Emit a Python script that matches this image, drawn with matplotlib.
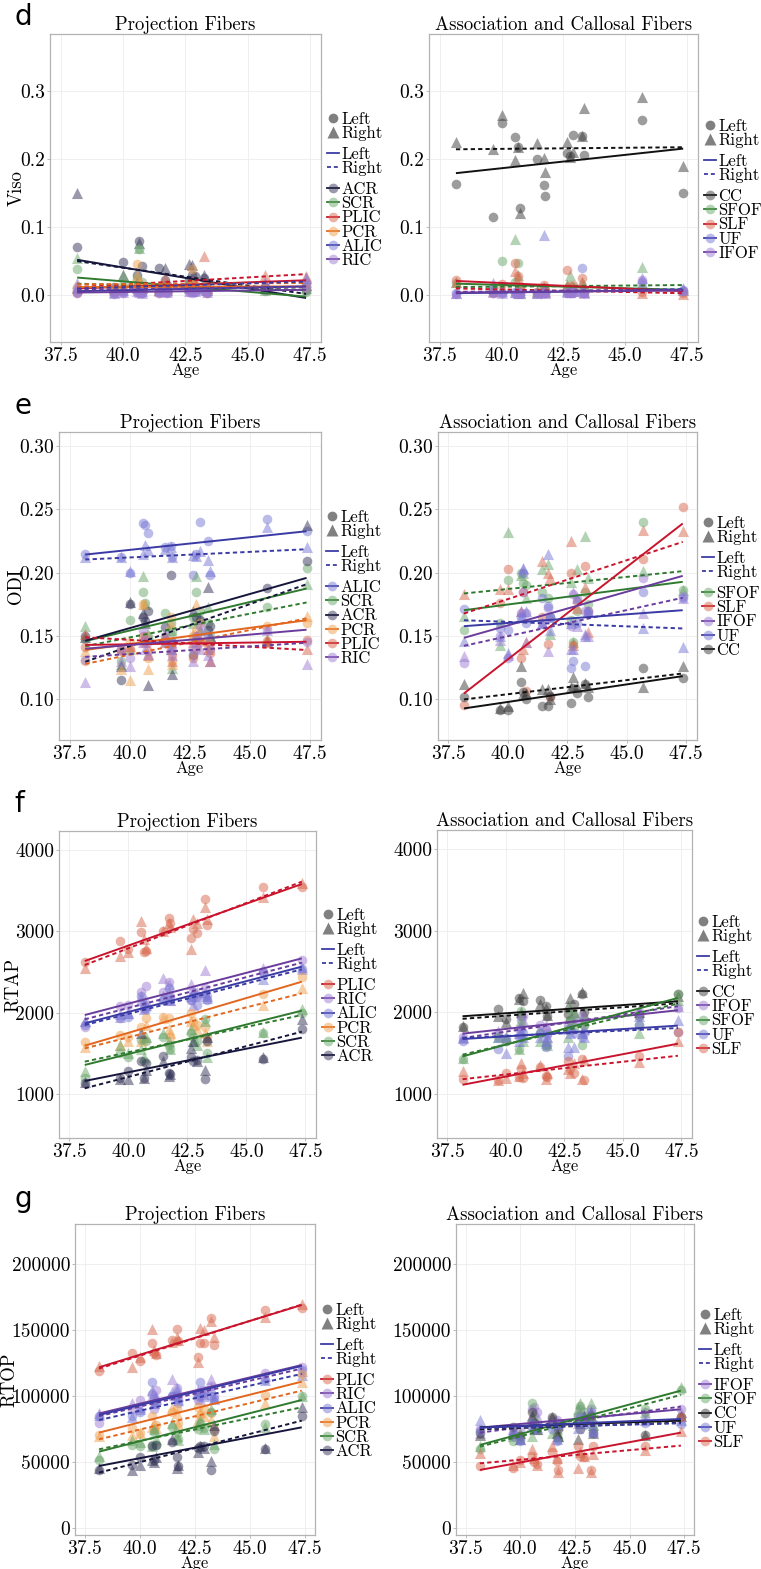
import matplotlib
matplotlib.use('Agg')
import matplotlib.pyplot as plt
from matplotlib.lines import Line2D
from matplotlib.colors import to_rgba

plt.rcParams['font.family'] = ['cmr10', 'DejaVu Serif']
plt.rcParams['mathtext.fontset'] = 'cm'
plt.rcParams['axes.formatter.use_mathtext'] = True

# ---------------- data ----------------
ages = [38.15, 39.65, 40.0, 40.55, 40.65, 40.75, 41.45, 41.7, 41.75,
        42.65, 42.75, 42.9, 43.25, 43.35, 45.7, 47.35]
age_ticks = [37.5, 40.0, 42.5, 45.0, 47.5]
age_tick_labels = ['37.5', '40.0', '42.5', '45.0', '47.5']

proj_tracts_viso = ['ACR', 'SCR', 'PLIC', 'PCR', 'ALIC', 'RIC']
assoc_tracts_viso = ['CC', 'SFOF', 'SLF', 'UF', 'IFOF']
proj_tracts_odi = ['ALIC', 'SCR', 'ACR', 'PCR', 'PLIC', 'RIC']
assoc_tracts_odi = ['SFOF', 'SLF', 'IFOF', 'UF', 'CC']
proj_tracts_rtap = ['PLIC', 'RIC', 'ALIC', 'PCR', 'SCR', 'ACR']
assoc_tracts_rtap = ['CC', 'IFOF', 'SFOF', 'UF', 'SLF']
proj_tracts_rtop = ['PLIC', 'RIC', 'ALIC', 'PCR', 'SCR', 'ACR']
assoc_tracts_rtop = ['IFOF', 'SFOF', 'CC', 'UF', 'SLF']

# fitted line values: [left start, left end, right start, right end]
# ---- Viso ----
viso_ACR_L = [0.071, 0.012, 0.049, 0.030, 0.080, 0.043, 0.040, 0.022, 0.015, 0.022, 0.030, 0.028, 0.025, 0.010, 0.012, 0.008]
viso_ACR_R = [0.150, 0.010, 0.030, 0.020, 0.077, 0.015, 0.010, 0.040, 0.015, 0.046, 0.045, 0.018, 0.030, 0.010, 0.010, 0.015]
viso_fit_ACR = [0.052, -0.004, 0.050, 0.002]
viso_SCR_L = [0.038, 0.008, 0.015, 0.025, 0.068, 0.020, 0.010, 0.012, 0.010, 0.020, 0.015, 0.010, 0.010, 0.008, 0.006, 0.005]
viso_SCR_R = [0.055, 0.010, 0.030, 0.018, 0.070, 0.012, 0.008, 0.015, 0.010, 0.018, 0.012, 0.010, 0.010, 0.008, 0.007, 0.010]
viso_fit_SCR = [0.026, -0.002, 0.017, 0.008]
viso_PLIC_L = [0.003, 0.005, 0.008, 0.010, 0.012, 0.006, 0.004, 0.010, 0.005, 0.008, 0.020, 0.010, 0.012, 0.004, 0.010, 0.018]
viso_PLIC_R = [0.010, 0.008, 0.012, 0.015, 0.020, 0.010, 0.008, 0.025, 0.010, 0.012, 0.015, 0.020, 0.058, 0.010, 0.030, 0.028]
viso_fit_PLIC = [0.010, 0.022, 0.012, 0.031]
viso_PCR_L = [0.012, 0.008, 0.010, 0.046, 0.015, 0.012, 0.008, 0.010, 0.006, 0.012, 0.038, 0.012, 0.010, 0.005, 0.010, 0.012]
viso_PCR_R = [0.015, 0.010, 0.012, 0.030, 0.020, 0.010, 0.010, 0.012, 0.008, 0.015, 0.020, 0.015, 0.015, 0.010, 0.015, 0.020]
viso_fit_PCR = [0.012, 0.013, 0.016, 0.018]
viso_ALIC_L = [0.005, 0.003, 0.005, 0.008, 0.006, 0.004, 0.005, 0.006, 0.005, 0.008, 0.006, 0.005, 0.010, 0.005, 0.012, 0.015]
viso_ALIC_R = [0.012, 0.005, 0.008, 0.010, 0.008, 0.006, 0.008, 0.010, 0.008, 0.010, 0.012, 0.010, 0.012, 0.008, 0.020, 0.025]
viso_fit_ALIC = [0.006, 0.013, 0.010, 0.020]
viso_RIC_L = [0.004, 0.002, 0.003, 0.005, 0.004, 0.003, 0.004, 0.005, 0.004, 0.005, 0.004, 0.005, 0.006, 0.004, 0.008, 0.010]
viso_RIC_R = [0.018, 0.003, 0.005, 0.006, 0.005, 0.004, 0.006, 0.006, 0.005, 0.006, 0.006, 0.006, 0.008, 0.005, 0.010, 0.025]
viso_fit_RIC = [0.004, 0.008, 0.008, 0.012]
viso_CC_L = [0.163, 0.115, 0.253, 0.232, 0.218, 0.128, 0.200, 0.161, 0.145, 0.208, 0.204, 0.235, 0.233, 0.205, 0.257, 0.150]
viso_CC_R = [0.224, 0.215, 0.264, 0.199, 0.218, 0.121, 0.223, 0.201, 0.180, 0.224, 0.203, 0.210, 0.234, 0.275, 0.290, 0.189]
viso_fit_CC = [0.179, 0.215, 0.214, 0.217]
viso_SFOF_L = [0.018, 0.010, 0.050, 0.020, 0.048, 0.010, 0.005, 0.012, 0.008, 0.010, 0.015, 0.012, 0.010, 0.008, 0.010, 0.006]
viso_SFOF_R = [0.020, 0.012, 0.010, 0.083, 0.030, 0.004, 0.005, 0.010, 0.010, 0.015, 0.030, 0.010, 0.020, 0.015, 0.042, 0.008]
viso_fit_SFOF = [0.017, 0.008, 0.012, 0.015]
viso_SLF_L = [0.022, 0.004, 0.016, 0.048, 0.028, 0.012, 0.005, 0.015, 0.008, 0.037, 0.005, 0.015, 0.025, 0.005, 0.005, 0.003]
viso_SLF_R = [0.020, 0.006, 0.010, 0.035, 0.025, 0.008, 0.006, 0.012, 0.006, 0.015, 0.010, 0.012, 0.020, 0.005, 0.004, 0.002]
viso_fit_SLF = [0.021, 0.006, 0.010, 0.003]
viso_UF_L = [0.003, 0.005, 0.004, 0.005, 0.003, 0.004, 0.003, 0.006, 0.004, 0.005, 0.004, 0.006, 0.040, 0.004, 0.020, 0.008]
viso_UF_R = [0.004, 0.018, 0.006, 0.005, 0.004, 0.005, 0.004, 0.088, 0.005, 0.006, 0.005, 0.006, 0.008, 0.005, 0.025, 0.010]
viso_fit_UF = [0.003, 0.008, 0.004, 0.009]
viso_IFOF_L = [0.002, 0.004, 0.003, 0.004, 0.003, 0.003, 0.003, 0.004, 0.003, 0.004, 0.004, 0.004, 0.005, 0.003, 0.022, 0.006]
viso_IFOF_R = [0.003, 0.005, 0.004, 0.005, 0.004, 0.004, 0.004, 0.005, 0.004, 0.005, 0.005, 0.006, 0.006, 0.004, 0.018, 0.008]
viso_fit_IFOF = [0.004, 0.007, 0.005, 0.008]

# ---- ODI ----
odi_ALIC_L = [0.215, 0.212, 0.200, 0.239, 0.238, 0.231, 0.220, 0.221, 0.212, 0.198, 0.215, 0.240, 0.225, 0.198, 0.242, 0.233]
odi_ALIC_R = [0.212, 0.212, 0.201, 0.215, 0.222, 0.218, 0.219, 0.220, 0.212, 0.214, 0.213, 0.217, 0.210, 0.201, 0.236, 0.220]
odi_fit_ALIC = [0.2143, 0.2327, 0.2104, 0.2185]
odi_SCR_L = [0.148, 0.130, 0.163, 0.185, 0.176, 0.150, 0.168, 0.160, 0.153, 0.165, 0.185, 0.170, 0.160, 0.150, 0.173, 0.204]
odi_SCR_R = [0.158, 0.128, 0.140, 0.197, 0.175, 0.152, 0.150, 0.155, 0.125, 0.160, 0.197, 0.165, 0.173, 0.150, 0.148, 0.191]
odi_fit_SCR = [0.146, 0.1875, 0.142, 0.1765]
odi_ACR_L = [0.150, 0.115, 0.175, 0.165, 0.162, 0.170, 0.157, 0.198, 0.145, 0.135, 0.165, 0.163, 0.155, 0.158, 0.188, 0.209]
odi_ACR_R = [0.149, 0.126, 0.177, 0.168, 0.160, 0.111, 0.150, 0.140, 0.120, 0.170, 0.150, 0.155, 0.189, 0.150, 0.146, 0.238]
odi_fit_ACR = [0.1463, 0.1959, 0.1297, 0.1909]
odi_PCR_L = [0.130, 0.140, 0.145, 0.175, 0.150, 0.133, 0.148, 0.165, 0.130, 0.150, 0.155, 0.160, 0.145, 0.140, 0.158, 0.160]
odi_PCR_R = [0.138, 0.124, 0.115, 0.175, 0.150, 0.124, 0.145, 0.160, 0.128, 0.152, 0.175, 0.148, 0.140, 0.130, 0.148, 0.166]
odi_fit_PCR = [0.139, 0.1625, 0.128, 0.164]
odi_PLIC_L = [0.141, 0.138, 0.140, 0.150, 0.145, 0.138, 0.145, 0.140, 0.135, 0.133, 0.140, 0.145, 0.143, 0.137, 0.146, 0.147]
odi_PLIC_R = [0.152, 0.140, 0.142, 0.148, 0.145, 0.135, 0.150, 0.145, 0.130, 0.145, 0.150, 0.148, 0.140, 0.130, 0.145, 0.140]
odi_fit_PLIC = [0.143, 0.1455, 0.149, 0.139]
odi_RIC_L = [0.131, 0.140, 0.133, 0.155, 0.148, 0.145, 0.150, 0.145, 0.140, 0.140, 0.150, 0.158, 0.150, 0.140, 0.155, 0.145]
odi_RIC_R = [0.114, 0.130, 0.126, 0.145, 0.140, 0.136, 0.145, 0.140, 0.135, 0.130, 0.145, 0.140, 0.135, 0.130, 0.155, 0.128]
odi_fit_RIC = [0.140, 0.155, 0.1336, 0.1447]
odi_SFOF_L = [0.155, 0.160, 0.194, 0.200, 0.192, 0.190, 0.185, 0.180, 0.165, 0.163, 0.145, 0.170, 0.185, 0.175, 0.240, 0.186]
odi_SFOF_R = [0.166, 0.143, 0.232, 0.198, 0.200, 0.180, 0.203, 0.207, 0.152, 0.193, 0.145, 0.203, 0.229, 0.196, 0.201, 0.186]
odi_fit_SFOF = [0.1704, 0.1928, 0.1836, 0.2012]
odi_SLF_L = [0.096, 0.176, 0.203, 0.133, 0.185, 0.107, 0.165, 0.144, 0.102, 0.200, 0.143, 0.178, 0.205, 0.170, 0.211, 0.252]
odi_SLF_R = [0.183, 0.187, 0.187, 0.170, 0.140, 0.145, 0.209, 0.200, 0.196, 0.225, 0.143, 0.172, 0.189, 0.153, 0.234, 0.233]
odi_fit_SLF = [0.1047, 0.2388, 0.1678, 0.2243]
odi_IFOF_L = [0.129, 0.150, 0.133, 0.168, 0.185, 0.168, 0.160, 0.172, 0.165, 0.158, 0.183, 0.180, 0.170, 0.168, 0.196, 0.182]
odi_IFOF_R = [0.134, 0.147, 0.135, 0.170, 0.203, 0.145, 0.160, 0.138, 0.165, 0.140, 0.185, 0.158, 0.152, 0.150, 0.168, 0.180]
odi_fit_IFOF = [0.1486, 0.1975, 0.1423, 0.1802]
odi_UF_L = [0.171, 0.156, 0.155, 0.165, 0.200, 0.160, 0.180, 0.174, 0.165, 0.125, 0.130, 0.160, 0.126, 0.170, 0.185, 0.180]
odi_UF_R = [0.146, 0.150, 0.137, 0.165, 0.204, 0.170, 0.160, 0.215, 0.155, 0.160, 0.140, 0.180, 0.150, 0.170, 0.156, 0.141]
odi_fit_UF = [0.1578, 0.1704, 0.1625, 0.156]
odi_CC_L = [0.102, 0.092, 0.092, 0.114, 0.106, 0.100, 0.095, 0.095, 0.103, 0.097, 0.109, 0.105, 0.112, 0.102, 0.125, 0.117]
odi_CC_R = [0.112, 0.093, 0.095, 0.126, 0.104, 0.105, 0.108, 0.108, 0.100, 0.110, 0.118, 0.110, 0.113, 0.110, 0.110, 0.126]
odi_fit_CC = [0.0929, 0.1184, 0.100, 0.1205]

# ---- RTAP ----
rtap_PLIC_L = [2620, 2880, 2780, 2990, 2750, 2760, 3000, 3170, 3100, 2920, 3030, 2980, 3400, 3080, 3540, 3540]
rtap_PLIC_R = [2550, 2700, 2750, 3130, 2900, 2800, 3000, 3100, 3050, 2780, 3150, 3100, 3300, 3150, 3420, 3600]
rtap_fit_PLIC = [2635, 3582, 2586, 3611]
rtap_RIC_L = [1820, 2080, 2100, 2250, 2050, 2330, 2250, 2380, 2200, 2150, 2250, 2200, 2300, 2200, 2500, 2650]
rtap_RIC_R = [1900, 1950, 2000, 2200, 2100, 2150, 2430, 2350, 2150, 2350, 2100, 2250, 2520, 2200, 2550, 2560]
rtap_fit_RIC = [1971, 2668, 1918, 2615]
rtap_ALIC_L = [1850, 1930, 1950, 2200, 2100, 2050, 2150, 2300, 2150, 2150, 2200, 2100, 2200, 2150, 2500, 2540]
rtap_ALIC_R = [1900, 1980, 2000, 2150, 2050, 2100, 2200, 2250, 2150, 2200, 2250, 2200, 2250, 2180, 2420, 2540]
rtap_fit_ALIC = [1869, 2566, 1848, 2533]
rtap_PCR_L = [1640, 1720, 1700, 1830, 1660, 1930, 1950, 1930, 1700, 2000, 1900, 1850, 1830, 1700, 2230, 2440]
rtap_PCR_R = [1580, 1600, 1650, 1650, 1700, 1850, 1940, 1800, 1750, 1900, 1850, 1800, 1750, 1650, 2100, 2300]
rtap_fit_PCR = [1594, 2381, 1561, 2238]
rtap_SCR_L = [1200, 1500, 1450, 1660, 1400, 1650, 1700, 1600, 1550, 1750, 1700, 1650, 1920, 1500, 1750, 2000]
rtap_SCR_R = [1280, 1600, 1500, 1550, 1450, 1700, 1750, 1650, 1550, 1800, 1650, 1600, 1900, 1450, 1760, 2040]
rtap_fit_SCR = [1357, 2025, 1398, 1971]
rtap_ACR_L = [1130, 1200, 1280, 1400, 1200, 1380, 1470, 1260, 1250, 1450, 1400, 1420, 1180, 1650, 1430, 1800]
rtap_ACR_R = [1150, 1180, 1180, 1750, 1200, 1300, 1400, 1220, 1250, 1570, 1650, 1400, 1300, 1700, 1450, 1920]
rtap_fit_ACR = [1160, 1693, 1070, 1766]
rtap_CC_L = [1820, 2040, 1920, 2170, 1950, 2140, 2150, 2080, 1950, 1980, 1900, 2100, 2230, 2000, 1950, 2230]
rtap_CC_R = [1830, 1950, 1880, 2160, 2000, 2240, 2100, 2050, 1970, 2080, 2180, 2000, 2250, 1980, 2000, 2200]
rtap_fit_CC = [1951, 2135, 1920, 2110]
rtap_IFOF_L = [1700, 1750, 1650, 1800, 1900, 1950, 1850, 1800, 1750, 1850, 1800, 1900, 1950, 1850, 2000, 2050]
rtap_IFOF_R = [1700, 1770, 1700, 1750, 1850, 1900, 1800, 1850, 1700, 1800, 1850, 1900, 1900, 1800, 2030, 2080]
rtap_fit_IFOF = [1738, 2025, 1684, 2074]
rtap_SFOF_L = [1430, 1700, 1650, 1550, 2020, 1700, 1750, 1600, 1600, 1800, 1900, 1950, 1600, 1850, 1850, 2220]
rtap_SFOF_R = [1440, 1700, 1700, 1550, 1900, 1650, 1650, 1620, 1600, 1700, 2050, 1850, 1750, 1900, 1750, 2150]
rtap_fit_SFOF = [1459, 2176, 1480, 2107]
rtap_UF_L = [1650, 1550, 1680, 1700, 1800, 1750, 1750, 1580, 1720, 1470, 1800, 1750, 1700, 1750, 1850, 1760]
rtap_UF_R = [1680, 1700, 1500, 1650, 1750, 1700, 1700, 1650, 1700, 1570, 1750, 1580, 1750, 1700, 1950, 1900]
rtap_fit_UF = [1672, 1836, 1684, 1807]
rtap_SLF_L = [1180, 1170, 1250, 1210, 1300, 1200, 1330, 1220, 1210, 1400, 1300, 1260, 1430, 1170, 1470, 1760]
rtap_SLF_R = [1280, 1170, 1200, 1220, 1380, 1250, 1350, 1180, 1250, 1300, 1250, 1380, 1180, 1420, 1390, 1650]
rtap_fit_SLF = [1111, 1615, 1180, 1467]

# ---- RTOP ----
rtop_PLIC_L = [119000, 133000, 127000, 140000, 133000, 131000, 143000, 151000, 142000, 130000, 140000, 140000, 159000, 139000, 165000, 167000]
rtop_PLIC_R = [123000, 122000, 130000, 151000, 135000, 133000, 141000, 145000, 143000, 126000, 152000, 150000, 157000, 145000, 160000, 170000]
rtop_fit_PLIC = [121970, 169190, 121000, 169500]
rtop_RIC_L = [80000, 90000, 97000, 102000, 90000, 105000, 100000, 106000, 98000, 97000, 100000, 103000, 108000, 100000, 118000, 122000]
rtop_RIC_R = [87000, 95000, 92000, 100000, 95000, 100000, 113000, 104000, 100000, 105000, 98000, 102000, 113000, 98000, 115000, 119000]
rtop_fit_RIC = [87000, 123700, 85000, 121000]
rtop_ALIC_L = [85000, 85000, 88000, 111000, 98000, 95000, 100000, 100000, 95000, 100000, 111000, 105000, 100000, 98000, 112000, 120000]
rtop_ALIC_R = [86000, 84000, 90000, 105000, 95000, 98000, 103000, 106000, 97000, 103000, 104000, 100000, 106000, 99000, 112000, 116000]
rtop_fit_ALIC = [85860, 123000, 82000, 117000]
rtop_PCR_L = [71000, 76000, 72000, 85000, 75000, 78000, 88000, 90000, 80000, 92000, 86000, 90000, 87000, 75000, 101000, 117000]
rtop_PCR_R = [70000, 71000, 72000, 77000, 80000, 76000, 91000, 87000, 79000, 82000, 88000, 85000, 82000, 70000, 95000, 111000]
rtop_fit_PCR = [72500, 111100, 67400, 104300]
rtop_SCR_L = [52000, 63000, 62000, 63000, 73000, 63000, 77000, 72000, 68000, 75000, 80000, 76000, 88000, 60000, 79000, 100000]
rtop_SCR_R = [55000, 67000, 65000, 62000, 75000, 68000, 80000, 70000, 67000, 78000, 82000, 75000, 90000, 64000, 77000, 100000]
rtop_fit_SCR = [58080, 97220, 59850, 91670]
rtop_ACR_L = [44000, 48000, 54000, 62000, 52000, 63000, 65000, 54000, 47000, 61000, 62000, 62000, 44000, 74000, 60000, 85000]
rtop_ACR_R = [46000, 44000, 48000, 52000, 50000, 54000, 68000, 46000, 48000, 58000, 62000, 61000, 51000, 78000, 61000, 92000]
rtop_fit_ACR = [47220, 76500, 42170, 81570]
rtop_IFOF_L = [75000, 72000, 75000, 90000, 92000, 88000, 83000, 82000, 80000, 85000, 90000, 85000, 90000, 80000, 88000, 90000]
rtop_IFOF_R = [72000, 74000, 72000, 86000, 88000, 85000, 80000, 80000, 78000, 80000, 88000, 84000, 85000, 78000, 86000, 88000]
rtop_fit_IFOF = [76260, 90150, 72470, 92170]
rtop_SFOF_L = [60000, 66000, 68000, 95000, 80000, 78000, 80000, 70000, 68000, 85000, 93000, 88000, 82000, 75000, 90000, 105000]
rtop_SFOF_R = [62000, 70000, 72000, 70000, 85000, 75000, 72000, 75000, 70000, 90000, 95000, 85000, 95000, 78000, 88000, 107000]
rtop_fit_SFOF = [63130, 104300, 61870, 101000]
rtop_CC_L = [72000, 77000, 70000, 88000, 80000, 76000, 84000, 78000, 75000, 80000, 75000, 82000, 85000, 72000, 71000, 84000]
rtop_CC_R = [71000, 72000, 68000, 85000, 78000, 75000, 84000, 72000, 70000, 68000, 80000, 85000, 88000, 72000, 71000, 85000]
rtop_fit_CC = [76500, 81570, 75000, 80050]
rtop_UF_L = [74000, 70000, 66000, 80000, 76000, 78000, 75000, 66000, 78000, 80000, 84000, 78000, 88000, 72000, 80000, 79000]
rtop_UF_R = [82000, 75000, 68000, 78000, 75000, 77000, 80000, 68000, 80000, 76000, 82000, 85000, 80000, 74000, 82000, 82000]
rtop_fit_UF = [76260, 82830, 75760, 79550]
rtop_SLF_L = [47000, 46000, 52000, 55000, 50000, 49000, 58000, 51000, 44000, 62000, 55000, 54000, 44000, 62000, 62000, 84000]
rtop_SLF_R = [57000, 48000, 50000, 60000, 53000, 48000, 62000, 53000, 43000, 46000, 58000, 55000, 43000, 56000, 59000, 74000]
rtop_fit_SLF = [44190, 72470, 49240, 62630]

# ---------------- styles ----------------
line_colors = {'ACR': '#16163c', 'SCR': '#2f7a2f', 'PLIC': '#c8142c', 'PCR': '#e2661e',
               'ALIC': '#3a3aa4', 'RIC': '#6a3c9c', 'CC': '#111111', 'SFOF': '#2f7a2f',
               'SLF': '#c8142c', 'UF': '#3a3aa4', 'IFOF': '#6a3c9c'}
point_colors = {'ACR': '#343458', 'SCR': '#6aa66a', 'PLIC': '#d9694e', 'PCR': '#f0a04e',
                'ALIC': '#7878d6', 'RIC': '#9c7cd2', 'CC': '#3c3c3c', 'SFOF': '#6aa66a',
                'SLF': '#d9694e', 'UF': '#7878d6', 'IFOF': '#9c7cd2'}
PT_ALPHA = 0.5
DASH = (0, (2.2, 1.6))

W, H = 761, 1569
fig = plt.figure(figsize=(W / 100, H / 100), dpi=100)


def add_axes(box):
    l, t, r, b = box
    return fig.add_axes([l / W, 1 - b / H, (r - l) / W, (b - t) / H])


panels = [
    dict(box=(50, 34, 321, 342), title='Projection Fibers', ylabel='Viso', ylx=17, metric='viso',
         tracts=proj_tracts_viso, ylim=(-0.0685, 0.383), yticks=[0.0, 0.1, 0.2, 0.3],
         yfmt='{:.1f}', leg=(333, 119), tag='d', tagpos=(14, 25)),
    dict(box=(429, 34, 698, 342), title='Association and Callosal Fibers', ylabel=None, metric='viso',
         tracts=assoc_tracts_viso, ylim=(-0.0685, 0.383), yticks=[0.0, 0.1, 0.2, 0.3],
         yfmt='{:.1f}', leg=(710, 126)),
    dict(box=(59, 432, 321, 740), title='Projection Fibers', ylabel='ODI', ylx=16, metric='odi',
         tracts=proj_tracts_odi, ylim=(0.068, 0.311), yticks=[0.10, 0.15, 0.20, 0.25, 0.30],
         yfmt='{:.2f}', leg=(332, 517), tag='e', tagpos=(14, 414)),
    dict(box=(438, 432, 697, 740), title='Association and Callosal Fibers', ylabel=None, metric='odi',
         tracts=assoc_tracts_odi, ylim=(0.068, 0.311), yticks=[0.10, 0.15, 0.20, 0.25, 0.30],
         yfmt='{:.2f}', leg=(708, 523)),
    dict(box=(59, 831, 316, 1138), title='Projection Fibers', ylabel='RTAP', ylx=13.5, metric='rtap',
         tracts=proj_tracts_rtap, ylim=(459, 4234), yticks=[1000, 2000, 3000, 4000],
         yfmt='{:.0f}', leg=(328, 915), tag='f', tagpos=(14, 812)),
    dict(box=(437, 830, 692, 1138), title='Association and Callosal Fibers', ylabel=None, metric='rtap',
         tracts=assoc_tracts_rtap, ylim=(459, 4234), yticks=[1000, 2000, 3000, 4000],
         yfmt='{:.0f}', leg=(703, 922)),
    dict(box=(75, 1224, 315, 1535), title='Projection Fibers', ylabel='RTOP', ylx=9.5, metric='rtop',
         tracts=proj_tracts_rtop, ylim=(-5076, 230530), yticks=[0, 50000, 100000, 150000, 200000],
         yfmt='{:.0f}', leg=(327, 1310), tag='g', tagpos=(14, 1207)),
    dict(box=(456, 1224, 694, 1535), title='Association and Callosal Fibers', ylabel=None, metric='rtop',
         tracts=assoc_tracts_rtop, ylim=(-5076, 230530), yticks=[0, 50000, 100000, 150000, 200000],
         yfmt='{:.0f}', leg=(705, 1315)),
]

G = globals()
x_fit = [min(ages), max(ages)]
LEG_FS = 12
ROW_H = 14.3


def make_legends(ax, mx, my, tracts):
    common = dict(loc='upper left', frameon=False, borderpad=0, borderaxespad=0,
                  handlelength=0.7, handletextpad=0.15, labelspacing=-0.07,
                  fontsize=LEG_FS, bbox_transform=fig.transFigure)
    x0 = (mx - 6) / W
    h1 = [Line2D([], [], ls='none', marker='o', ms=7, mfc='#808080', mec='none'),
          Line2D([], [], ls='none', marker='^', ms=8.5, mfc='#808080', mec='none')]
    l1 = ax.legend(h1, ['Left', 'Right'], bbox_to_anchor=(x0, 1 - (my - ROW_H / 2) / H), **common)
    ax.add_artist(l1)
    h2 = [Line2D([], [], color='#3c3ca4', lw=1.3, ls='-'),
          Line2D([], [], color='#3c3ca4', lw=1.3, ls=DASH)]
    l2 = ax.legend(h2, ['Left', 'Right'], bbox_to_anchor=(x0, 1 - (my + 35 - ROW_H / 2) / H), **common)
    ax.add_artist(l2)
    h3 = [Line2D([], [], color=line_colors[t], lw=1.3, marker='o', ms=7,
                 mfc=to_rgba(point_colors[t], PT_ALPHA), mec='none') for t in tracts]
    ax.legend(h3, tracts, bbox_to_anchor=(x0, 1 - (my + 70 - ROW_H / 2) / H), **common)


for p in panels:
    ax = add_axes(p['box'])
    m = p['metric']
    for t in p['tracts']:
        ax.scatter(ages, G[f'{m}_{t}_L'], marker='o', s=48, color=point_colors[t],
                   alpha=PT_ALPHA, linewidths=0, zorder=2)
        ax.scatter(ages, G[f'{m}_{t}_R'], marker='^', s=64, color=point_colors[t],
                   alpha=PT_ALPHA, linewidths=0, zorder=2)
    for t in p['tracts']:
        f = G[f'{m}_fit_{t}']
        ax.plot(x_fit, f[0:2], color=line_colors[t], lw=1.4, ls='-', zorder=3,
                solid_capstyle='butt')
        ax.plot(x_fit, f[2:4], color=line_colors[t], lw=1.4, ls=DASH, zorder=3)
    ax.set_xlim(37.06, 47.95)
    ax.set_ylim(*p['ylim'])
    ax.set_xticks(age_ticks)
    ax.set_xticklabels(age_tick_labels)
    ax.set_yticks(p['yticks'])
    ax.set_yticklabels([p['yfmt'].format(v) for v in p['yticks']])
    ax.tick_params(labelsize=14, length=2, width=0.6, color='#b0b0b0', pad=1.5)
    ax.grid(True, color='#ececec', lw=0.6, zorder=0)
    ax.set_axisbelow(True)
    for s in ax.spines.values():
        s.set_color('#b3b3b3')
        s.set_linewidth(0.9)
    ax.set_title(p['title'], fontsize=13.5, pad=2)
    ax.set_xlabel('Age', fontsize=12, labelpad=-1.5)
    if p['ylabel']:
        l, t_, r, b = p['box']
        fig.text(p['ylx'] / W, 1 - (t_ + b) / 2 / H, p['ylabel'], fontsize=13.5,
                 rotation=90, ha='center', va='center')
    make_legends(ax, p['leg'][0], p['leg'][1], p['tracts'])
    if 'tag' in p:
        fig.text(p['tagpos'][0] / W, 1 - p['tagpos'][1] / H, p['tag'], fontsize=20,
                 family='DejaVu Sans', va='baseline', ha='left')

fig.savefig('out.png', dpi=100)
